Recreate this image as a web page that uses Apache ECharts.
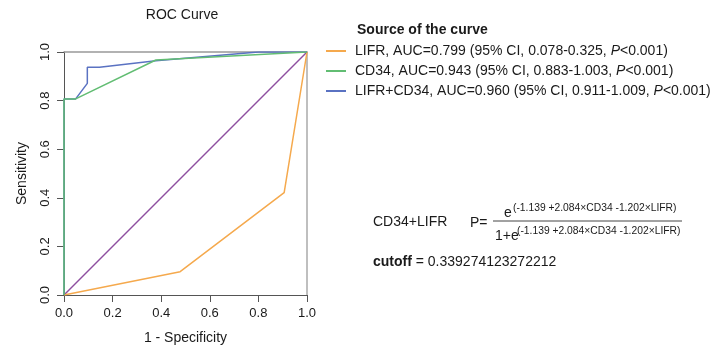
<!DOCTYPE html>
<html><head><meta charset="utf-8">
<script src="https://cdn.jsdelivr.net/npm/echarts@6/dist/echarts.min.js"></script>
<style>html,body{margin:0;padding:0;background:#fff}#c{width:721px;height:351px}</style>
</head><body><div id="c"></div>
<script>
// 1 - Specificity (x) and Sensitivity (y) for each curve
const lifrX = [0, 0.478, 0.906, 1];
const lifrY = [0, 0.096, 0.421, 1];
const cd34X = [0, 0, 0.048, 0.378, 1];
const cd34Y = [0, 0.807, 0.807, 0.967, 1];
const combX = [0, 0, 0.048, 0.096, 0.096, 0.146, 0.378, 0.8, 1];
const combY = [0, 0.807, 0.807, 0.871, 0.937, 0.937, 0.964, 1, 1];
const refX = [0, 1];
const refY = [0, 1];
const seriesNames = ['LIFR', 'CD34', 'LIFR+CD34'];
const legendText = {
  'LIFR': ['LIFR, AUC=0.799 (95% CI, 0.078-0.325, ', '<0.001)'],
  'CD34': ['CD34, AUC=0.943 (95% CI, 0.883-1.003, ', '<0.001)'],
  'LIFR+CD34': ['LIFR+CD34, AUC=0.960 (95% CI, 0.911-1.009, ', '<0.001)']
};
const exponent = '(-1.139 +2.084\u00d7CD34 -1.202\u00d7LIFR)';
const cutoffValue = '0.339274123272212';

const pairs = (xs, ys) => xs.map((x, i) => [x, ys[i]]);
const FONT = 'Liberation Sans, Arial, sans-serif';
const TXT = '#1a1a1a';

const chart = echarts.init(document.getElementById('c'), null, {renderer: 'canvas'});
const axisCommon = {
  type: 'value', min: 0, max: 1, interval: 0.2,
  splitLine: {show: false},
};
chart.setOption({
  animation: false,
  backgroundColor: '#fff',
  textStyle: {fontFamily: FONT},
  grid: {left: 64, top: 52, width: 243, height: 243},
  xAxis: [
    Object.assign({}, axisCommon, {
      position: 'bottom',
      axisLine: {show: true, onZero: false, lineStyle: {color: '#555', width: 1}},
      axisTick: {show: true, length: 7, lineStyle: {color: '#555'}},
      axisLabel: {fontSize: 13, color: TXT, margin: 12, fontFamily: FONT, formatter: v => v.toFixed(1)},
      name: '1 - Specificity', nameLocation: 'middle', nameGap: 36,
      nameTextStyle: {fontSize: 14, color: TXT, fontFamily: FONT}
    }),
    Object.assign({}, axisCommon, {
      position: 'top',
      axisLine: {show: true, onZero: false, lineStyle: {color: '#999', width: 1.5}},
      axisTick: {show: false}, axisLabel: {show: false}
    })
  ],
  yAxis: [
    Object.assign({}, axisCommon, {
      position: 'left',
      axisLine: {show: true, onZero: false, lineStyle: {color: '#555', width: 1}},
      axisTick: {show: true, length: 7, lineStyle: {color: '#555'}},
      axisLabel: {fontSize: 13, color: TXT, margin: 12, rotate: 90, fontFamily: FONT, formatter: v => v.toFixed(1)},
      name: 'Sensitivity', nameLocation: 'middle', nameGap: 35, nameRotate: 90,
      nameTextStyle: {fontSize: 14, color: TXT, fontFamily: FONT}
    }),
    Object.assign({}, axisCommon, {
      position: 'right',
      axisLine: {show: true, onZero: false, lineStyle: {color: '#aaa', width: 1.5}},
      axisTick: {show: false}, axisLabel: {show: false}
    })
  ],
  legend: {
    data: seriesNames,
    orient: 'vertical', left: 321, top: 39, itemGap: 6,
    itemWidth: 20, itemHeight: 2, icon: 'rect',
    textStyle: {fontSize: 14, color: TXT, fontFamily: FONT, padding: [0, 0, 0, 4],
      rich: {
        a: {fontSize: 14, color: TXT, fontFamily: FONT},
        i: {fontSize: 14, color: TXT, fontFamily: FONT, fontStyle: 'italic'}
      }},
    formatter: name => '{a|' + legendText[name][0] + '}{i|P}{a|' + legendText[name][1] + '}'
  },
  series: [
    {name: 'ref', type: 'line', data: pairs(refX, refY), symbol: 'none', lineStyle: {color: '#8e4f9f', width: 1.5}, z: 2},
    {name: 'LIFR', type: 'line', data: pairs(lifrX, lifrY), symbol: 'none', itemStyle: {color: '#f5a94d'}, lineStyle: {color: '#f5a94d', width: 1.5}, z: 3},
    {name: 'LIFR+CD34', type: 'line', data: pairs(combX, combY), symbol: 'none', itemStyle: {color: '#5a72c2'}, lineStyle: {color: '#5a72c2', width: 1.5}, z: 4},
    {name: 'CD34', type: 'line', data: pairs(cd34X, cd34Y), symbol: 'none', itemStyle: {color: '#62bd73'}, lineStyle: {color: '#62bd73', width: 1.5}, z: 5}
  ],
  graphic: [
    {type: 'text', x: 182, y: 15, style: {text: 'ROC Curve', fontSize: 14, fill: TXT, fontFamily: FONT, textAlign: 'center', textVerticalAlign: 'middle'}},
    {type: 'text', x: 357, y: 30, style: {text: 'Source of the curve', fontSize: 14, fontWeight: 'bold', fill: TXT, fontFamily: FONT, textVerticalAlign: 'middle'}},
    {type: 'text', x: 373, y: 222, style: {text: 'CD34+LIFR', fontSize: 14, fill: TXT, fontFamily: FONT, textVerticalAlign: 'middle'}},
    {type: 'text', x: 470, y: 223, style: {text: 'P=', fontSize: 14, fill: TXT, fontFamily: FONT, textVerticalAlign: 'middle'}},
    {type: 'text', x: 504, y: 213, style: {text: 'e', fontSize: 14, fill: TXT, fontFamily: FONT, textVerticalAlign: 'middle'}},
    {type: 'text', x: 513, y: 208, style: {text: exponent, fontSize: 10.3, fill: TXT, fontFamily: FONT, textVerticalAlign: 'middle'}},
    {type: 'line', shape: {x1: 493, y1: 221, x2: 682, y2: 221}, style: {stroke: '#444', lineWidth: 1}},
    {type: 'text', x: 495, y: 236, style: {text: '1+e', fontSize: 14, fill: TXT, fontFamily: FONT, textVerticalAlign: 'middle'}},
    {type: 'text', x: 517, y: 231, style: {text: exponent, fontSize: 10.3, fill: TXT, fontFamily: FONT, textVerticalAlign: 'middle'}},
    {type: 'text', x: 373, y: 262, style: {
      text: '{b|cutoff}{n| = ' + cutoffValue + '}', fontFamily: FONT, textVerticalAlign: 'middle',
      rich: {b: {fontSize: 14, fontWeight: 'bold', fill: TXT, fontFamily: FONT}, n: {fontSize: 14, fill: TXT, fontFamily: FONT}}
    }}
  ]
});
</script></body></html>
